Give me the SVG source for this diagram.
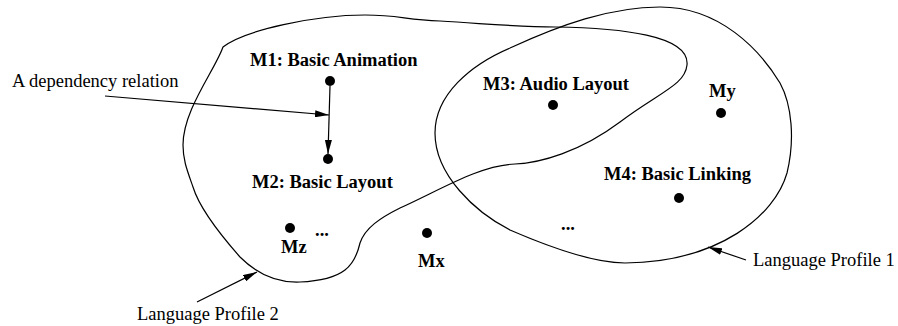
<svg xmlns="http://www.w3.org/2000/svg" width="898" height="326" viewBox="0 0 898 326">
<style>
.lbl{font-family:"Liberation Serif","Times New Roman",serif;font-size:18.5px;font-weight:bold;fill:#000}
.txt{font-family:"Liberation Serif","Times New Roman",serif;font-size:18.5px;fill:#000}
.blob{fill:none;stroke:#000;stroke-width:1.2}
.conn{fill:none;stroke:#000;stroke-width:1.2}
.dot{fill:#000}
</style>
<defs>
<marker id="ah" viewBox="0 0 14 7" refX="14" refY="3.5" markerWidth="14" markerHeight="7" markerUnits="userSpaceOnUse" orient="auto">
<path d="M0,0 L14,3.5 L0,7 Z" fill="#000"/>
</marker>
</defs>
<g id="profile2">
<path class="blob" d="M 223,47 C 245,30 315,15 365,15 C 400,15 405,20 440,21 C 490,24 520,27 555,27 C 620,28 690,35 687,65 C 685,85 660,92 620,122 C 580,152 540,163 515,164 C 480,165 440,190 400,208 C 380,218 365,228 360,243 C 355,265 345,280 300,282 C 275,283 255,272 240,257 C 225,240 200,210 193,187 C 187,170 183,160 183,145 C 183,110 215,70 223,47 Z"/>
</g>
<g id="profile1">
<path class="blob" d="M 660,7 C 720,7 760,50 780,83 C 792,105 795,140 787,173 C 775,215 720,262 625,263 C 590,263 540,243 510,230 C 475,212 435,175 435,133 C 435,95 470,65 510,48 C 560,25 610,7 660,7 Z"/>
</g>
<g id="m1">
<circle class="dot" cx="330" cy="81" r="5"/>
<text class="lbl" x="250" y="66">M1: Basic Animation</text>
</g>
<g id="m2">
<circle class="dot" cx="328" cy="159" r="5"/>
<text class="lbl" x="252" y="188">M2: Basic Layout</text>
</g>
<g id="mz">
<circle class="dot" cx="290" cy="228" r="5"/>
<text class="lbl" x="281" y="253">Mz</text>
<text class="lbl" x="315" y="236">...</text>
</g>
<g id="mx">
<circle class="dot" cx="427" cy="233" r="5"/>
<text class="lbl" x="418" y="267">Mx</text>
</g>
<g id="m3">
<circle class="dot" cx="553" cy="105" r="5"/>
<text class="lbl" x="483" y="90">M3: Audio Layout</text>
</g>
<g id="my">
<circle class="dot" cx="721" cy="113" r="5"/>
<text class="lbl" x="709" y="97">My</text>
</g>
<g id="m4">
<circle class="dot" cx="679" cy="198" r="5"/>
<text class="lbl" x="604" y="180">M4: Basic Linking</text>
<text class="lbl" x="561" y="230">...</text>
</g>
<g id="labels">
<text class="txt" x="12" y="87">A dependency relation</text>
<text class="txt" x="137" y="320">Language Profile 2</text>
<text class="txt" x="753" y="266">Language Profile 1</text>
</g>
<g id="connectors">
<path class="conn" d="M 330,86 L 328,154" marker-end="url(#ah)"/>
<path class="conn" d="M 105,96 L 329,115" marker-end="url(#ah)"/>
<path class="conn" d="M 197,302 L 257,272" marker-end="url(#ah)"/>
<path class="conn" d="M 746,260 L 708,247" marker-end="url(#ah)"/>
</g>
</svg>
